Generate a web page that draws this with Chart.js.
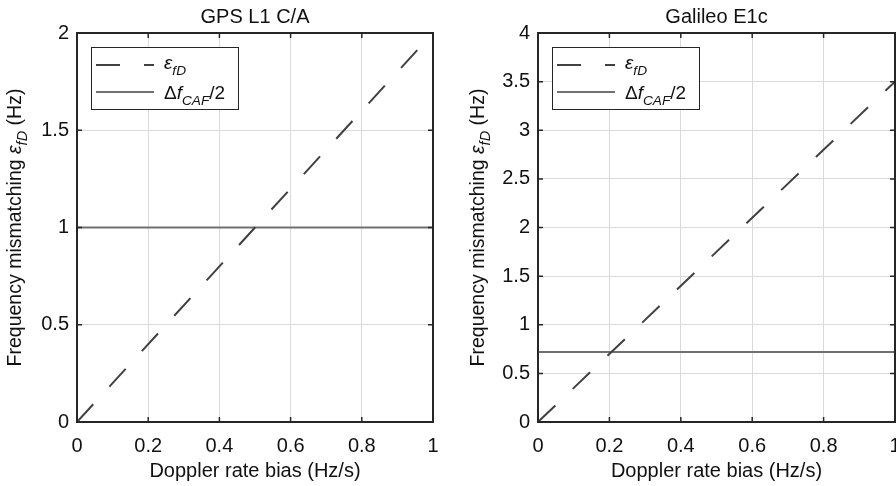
<!DOCTYPE html>
<html lang="en">
<head>
<meta charset="UTF-8">
<title>Frequency mismatching vs Doppler rate bias</title>
<script src="https://cdn.jsdelivr.net/npm/chart.js"></script>
<style>
  body { margin: 0; background: #fff; }
  .panel { position: absolute; top: 0; width: 448px; height: 486px; }
</style>
</head>
<body>
<div class="panel" style="left:0"><canvas id="gpsChart" width="448" height="486"></canvas></div>
<div class="panel" style="left:448px"><canvas id="galChart" width="448" height="486"></canvas></div>
<script>
// Doppler rate bias (Hz/s)
const bias = [0, 1];
// GPS L1 C/A
const gpsMismatch = [0, 2];
const gpsHalfBin = [1, 1];
// Galileo E1c
const galMismatch = [0, 3.5];
const galHalfBin = [0.72, 0.72];

// tick labels
const xTicks = [0, 0.2, 0.4, 0.6, 0.8, 1];
const gpsYTicks = [0, 0.5, 1, 1.5, 2];
const galYTicks = [0, 0.5, 1, 1.5, 2, 2.5, 3, 3.5, 4];

const FONT = '"Liberation Sans", Arial, Helvetica, sans-serif';
const AXIS = '#262626';
const GRID = '#dadada';
const TEXT = '#111';

function pts(xs, ys) {
    return xs.map((x, i) => ({ x: x, y: ys[i] }));
}

// draw a run of text pieces (some italic / subscript), returns the width
function rich(ctx, parts, x, y, size, draw, subScale) {
    let w = 0;
    parts.forEach(p => {
        const s = p.sub ? size * (subScale || 0.75) : size;
        ctx.font = (p.it ? 'italic ' : '') + s + 'px ' + FONT;
        if (draw) ctx.fillText(p.t, x + w, y + (p.sub ? size * 0.33 : 0));
        w += ctx.measureText(p.t).width;
    });
    return w;
}

// matlab style box, inward ticks, legend and titles
const frame = {
    id: 'frame',
    afterDatasetsDraw(chart, args, o) {
        const ctx = chart.ctx, a = chart.chartArea;
        const xs = chart.scales.x, ys = chart.scales.y;
        ctx.save();

        ctx.strokeStyle = AXIS;
        ctx.lineWidth = 1.5;
        ctx.beginPath();
        xs.ticks.forEach(t => {
            const px = xs.getPixelForValue(t.value);
            ctx.moveTo(px, a.bottom); ctx.lineTo(px, a.bottom - 5);
            ctx.moveTo(px, a.top); ctx.lineTo(px, a.top + 5);
        });
        ys.ticks.forEach(t => {
            const py = ys.getPixelForValue(t.value);
            ctx.moveTo(a.left, py); ctx.lineTo(a.left + 5, py);
            ctx.moveTo(a.right, py); ctx.lineTo(a.right - 5, py);
        });
        ctx.stroke();
        ctx.lineWidth = 2;
        ctx.strokeRect(a.left, a.top, a.right - a.left, a.bottom - a.top);

        // legend
        const lx = a.left + 14, ly = a.top + 14, lw = 147, lh = 62;
        ctx.fillStyle = '#fff';
        ctx.fillRect(lx, ly, lw, lh);
        ctx.lineWidth = 1;
        ctx.strokeStyle = AXIS;
        ctx.strokeRect(lx + 0.5, ly + 0.5, lw, lh);
        const ds = chart.data.datasets;
        const rows = [ly + 18, ly + 45];
        ctx.lineWidth = 2;
        ctx.lineCap = 'butt';
        ds.forEach((d, i) => {
            ctx.strokeStyle = d.borderColor;
            ctx.setLineDash(d.borderDash || []);
            ctx.beginPath();
            ctx.moveTo(lx + 5, rows[i]);
            ctx.lineTo(lx + 63, rows[i]);
            ctx.stroke();
        });
        ctx.setLineDash([]);
        ctx.fillStyle = TEXT;
        ctx.textAlign = 'left';
        ctx.textBaseline = 'alphabetic';
        rich(ctx, [{ t: 'ε', it: true }, { t: 'fD', it: true, sub: true }], lx + 73, rows[0] + 4, 19, true, 0.72);
        rich(ctx, [{ t: 'Δ' }, { t: 'f', it: true }, { t: 'CAF', it: true, sub: true }, { t: '/2' }], lx + 73, rows[1] + 6.5, 19, true, 0.72);

        // titles
        const cx = (a.left + a.right) / 2;
        ctx.font = '20px ' + FONT;
        ctx.textAlign = 'center';
        ctx.fillText(o.title, cx, 23);
        ctx.fillText('Doppler rate bias (Hz/s)', cx, 477);

        ctx.textAlign = 'left';
        const yParts = [{ t: 'Frequency mismatching ' }, { t: 'ε', it: true }, { t: 'fD', it: true, sub: true }, { t: ' (Hz)' }];
        const w = rich(ctx, yParts, 0, 0, 19.5, false);
        ctx.translate(o.yTitleX, (a.top + a.bottom) / 2);
        ctx.rotate(-Math.PI / 2);
        rich(ctx, yParts, -w / 2, 0, 19.5, true);
        ctx.restore();
    }
};

function makeChart(id, mismatch, halfBin, yTicks, title, leftW, rightPad, yTitleX) {
    const tickFont = { family: FONT, size: 20 };
    return new Chart(document.getElementById(id), {
        type: 'line',
        data: {
            datasets: [{
                label: 'eps_fD',
                data: pts(bias, mismatch),
                borderColor: '#404040',
                borderWidth: 2,
                borderDash: [24, 24],
                borderCapStyle: 'butt',
                pointRadius: 0,
                fill: false
            }, {
                label: 'dfCAF/2',
                data: pts(bias, halfBin),
                borderColor: '#707070',
                borderWidth: 2,
                pointRadius: 0,
                fill: false
            }]
        },
        options: {
            responsive: false,
            animation: false,
            layout: { padding: { top: 33, right: rightPad, left: 0, bottom: 0 } },
            plugins: {
                legend: { display: false },
                tooltip: { enabled: false },
                frame: { title: title, yTitleX: yTitleX }
            },
            scales: {
                x: {
                    type: 'linear',
                    min: xTicks[0],
                    max: xTicks[xTicks.length - 1],
                    afterBuildTicks: s => { s.ticks = xTicks.map(v => ({ value: v })); },
                    ticks: { color: TEXT, font: tickFont, padding: 12, maxRotation: 0, autoSkip: false, callback: v => String(v) },
                    grid: { color: GRID, drawTicks: false },
                    border: { display: false },
                    afterFit: s => { s.height = 64; s.paddingLeft = 0; s.paddingRight = 0; }
                },
                y: {
                    type: 'linear',
                    min: yTicks[0],
                    max: yTicks[yTicks.length - 1],
                    afterBuildTicks: s => { s.ticks = yTicks.map(v => ({ value: v })); },
                    ticks: { color: TEXT, font: tickFont, padding: 8, autoSkip: false, callback: v => String(v) },
                    grid: { color: GRID, drawTicks: false },
                    border: { display: false },
                    afterFit: s => { s.width = leftW; s.paddingTop = 0; s.paddingBottom = 0; }
                }
            }
        },
        plugins: [frame]
    });
}

makeChart('gpsChart', gpsMismatch, gpsHalfBin, gpsYTicks, 'GPS L1 C/A', 77, 15, 21);
makeChart('galChart', galMismatch, galHalfBin, galYTicks, 'Galileo E1c', 90, 1, 36);
</script>
</body>
</html>
